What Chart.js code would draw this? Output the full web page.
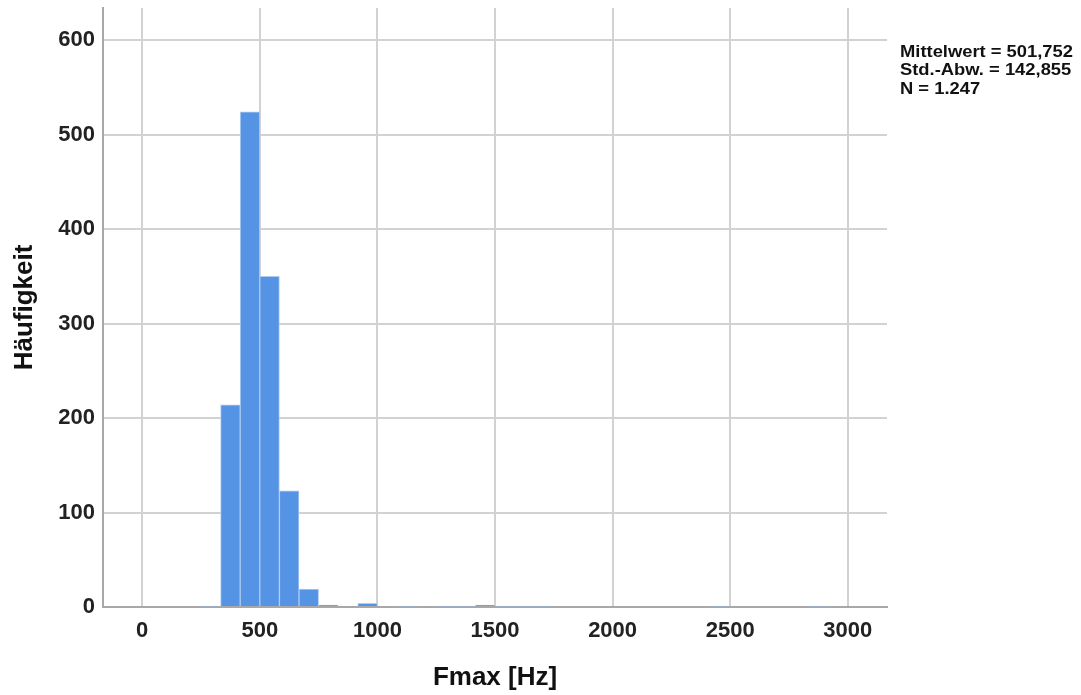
<!DOCTYPE html>
<html>
<head>
<meta charset="utf-8">
<script src="https://cdn.jsdelivr.net/npm/chart.js@4.4.1/dist/chart.umd.min.js"></script>
<style>
  html, body { margin: 0; padding: 0; background: #ffffff; }
  #wrap { width: 1081px; height: 695px; }
</style>
</head>
<body>
<div id="wrap"><canvas id="histChart" width="1081" height="695"></canvas></div>
<script>
// Klassenmitten (Hz) und Häufigkeiten
const binCenters = [291.67, 375, 458.33, 541.67, 625, 708.33, 791.67, 958.33, 1125,
                    1291.67, 1375, 1458.33, 1541.67, 1625, 1708.33, 2458.33, 2875];
const counts = [1, 214, 524, 350, 123, 19, 2, 4, 1,
                1, 1, 2, 1, 1, 1, 1, 1];
const xTicks = [0, 500, 1000, 1500, 2000, 2500, 3000];
const yTicks = [0, 100, 200, 300, 400, 500, 600];
const statsLines = ["Mittelwert = 501,752", "Std.-Abw. = 142,855", "N = 1.247"];

const fontFam = "'Liberation Sans', Arial, sans-serif";
const tickFont = { family: fontFam, size: 22, weight: "bold" };

const statsPlugin = {
    id: "stats",
    afterDraw(chart) {
        const ctx = chart.ctx;
        ctx.save();
        ctx.font = "bold 17px " + fontFam;
        ctx.fillStyle = "#111111";
        ctx.textBaseline = "middle";
        const w = ctx.measureText(statsLines[0]).width;
        const sx = 173 / w; // schmale Schrift wie im Original
        ctx.translate(900, 0);
        ctx.scale(sx, 1);
        statsLines.forEach((line, i) => {
            ctx.fillText(line, 0, 52 + i * 18.7);
        });
        ctx.restore();
    }
};

const ctx = document.getElementById("histChart").getContext("2d");
new Chart(ctx, {
    type: "bar",
    data: {
        datasets: [{
            label: "Fmax",
            data: binCenters.map((x, i) => ({ x: x, y: counts[i] })),
            backgroundColor: "#5593e4",
            borderColor: "rgba(175, 203, 242, 1)",
            borderWidth: 1,
            borderSkipped: "bottom",
            barPercentage: 1,
            categoryPercentage: 1
        }]
    },
    options: {
        responsive: false,
        animation: false,
        layout: { padding: { top: 8, right: 194, bottom: 0, left: 0 } },
        plugins: {
            legend: { display: false },
            tooltip: { enabled: false }
        },
        scales: {
            x: {
                type: "linear",
                min: -166.67,
                max: 3166.67,
                offset: false,
                afterBuildTicks: axis => { axis.ticks = xTicks.map(v => ({ value: v })); },
                afterFit: axis => { axis.height = 88; axis.paddingLeft = 0; axis.paddingRight = 0; },
                ticks: { font: tickFont, color: "#222222", padding: 11, maxRotation: 0,
                         callback: v => String(v) },
                grid: { color: "#d2d2d2", lineWidth: 2, drawTicks: false, offset: false },
                border: { color: "#a8a8a8", width: 2 },
                title: {
                    display: true,
                    text: "Fmax [Hz]",
                    font: { family: fontFam, size: 26, weight: "bold" },
                    color: "#111111",
                    padding: { top: 0, bottom: 2 }
                }
            },
            y: {
                min: 0,
                max: 634,
                afterBuildTicks: axis => { axis.ticks = yTicks.map(v => ({ value: v })); },
                afterFit: axis => { axis.width = 103; axis.paddingTop = 0; axis.paddingBottom = 0; },
                ticks: { font: tickFont, color: "#222222", padding: 8, callback: v => String(v) },
                grid: { color: "#d2d2d2", lineWidth: 2, drawTicks: false },
                border: { color: "#a8a8a8", width: 2 },
                title: {
                    display: true,
                    text: "Häufigkeit",
                    font: { family: fontFam, size: 26, weight: "bold" },
                    color: "#111111",
                    padding: { top: 9, bottom: 0 }
                }
            }
        }
    },
    plugins: [statsPlugin]
});
</script>
</body>
</html>
